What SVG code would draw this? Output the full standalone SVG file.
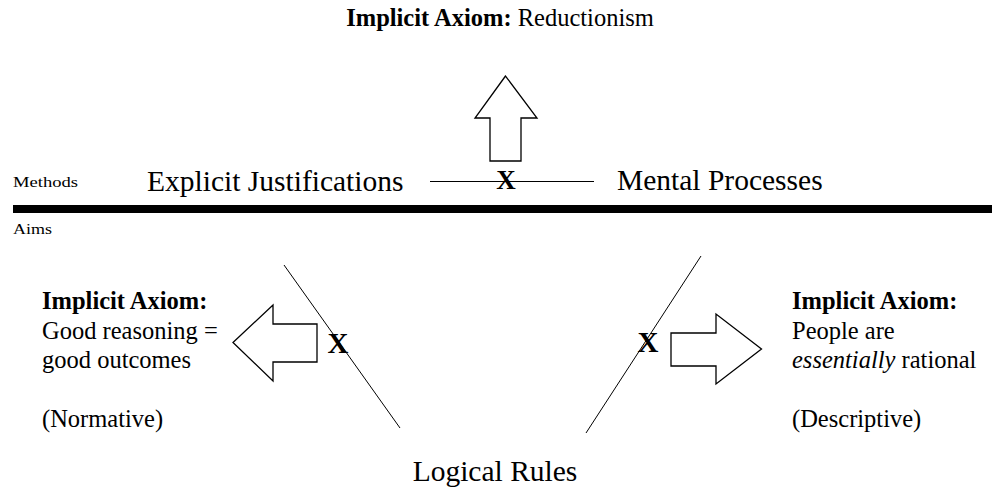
<svg xmlns="http://www.w3.org/2000/svg" width="992" height="489" viewBox="0 0 992 489">
<style>
  text { font-family: "Liberation Serif", "Times New Roman", serif; fill: #000; }
  .b { font-weight: bold; }
  .big { font-size: 29.5px; }
  .mid { font-size: 24.5px; }
  .small { font-size: 15px; }
  .x { font-weight: bold; text-anchor: middle; }
  .thin { stroke: #000; stroke-width: 1; fill: none; }
  .blk { fill: #fff; stroke: #000; stroke-width: 1.3; stroke-linejoin: miter; }
</style>
<rect width="992" height="489" fill="#fff"/>

<g id="connectors">
  <line class="thin" x1="430" y1="181.5" x2="594" y2="181.5"/>
  <line class="thin" x1="284" y1="265" x2="400" y2="428"/>
  <line class="thin" x1="701" y1="256" x2="586" y2="433"/>
  <polygon class="blk" points="505.5,76 475,118 490,118 490,161 521,161 521,118 537,118"/>
  <polygon class="blk" points="233,342.5 273,305 273,324 317,324 317,362 273,362 273,381"/>
  <polygon class="blk" points="761.5,349 716,314 716,333 671,333 671,366 716,366 716,384"/>
  <text class="x" x="506" y="189" font-size="27">X</text>
  <text class="x" x="338" y="352.5" font-size="29">X</text>
  <text class="x" x="648" y="352" font-size="29">X</text>
</g>

<g id="title">
  <text class="mid" x="500" y="26" text-anchor="middle"><tspan class="b">Implicit Axiom:</tspan> Reductionism</text>
</g>

<g id="divider">
  <rect x="13" y="205" width="979" height="8" fill="#000"/>
  <text class="small" x="13" y="187" textLength="65" lengthAdjust="spacingAndGlyphs">Methods</text>
  <text class="small" x="13" y="234" textLength="39" lengthAdjust="spacingAndGlyphs">Aims</text>
</g>

<g id="explicit-justifications">
  <text class="big" x="147" y="191">Explicit Justifications</text>
</g>

<g id="mental-processes">
  <text class="big" x="617" y="190">Mental Processes</text>
</g>

<g id="normative">
  <text class="mid" x="42" y="309"><tspan class="b">Implicit Axiom:</tspan></text>
  <text class="mid" x="42" y="338.5">Good reasoning =</text>
  <text class="mid" x="42" y="368">good outcomes</text>
  <text class="mid" x="42" y="427">(Normative)</text>
</g>

<g id="descriptive">
  <text class="mid" x="792" y="309"><tspan class="b">Implicit Axiom:</tspan></text>
  <text class="mid" x="792" y="338.5">People are</text>
  <text class="mid" x="792" y="368"><tspan font-style="italic">essentially</tspan> rational</text>
  <text class="mid" x="792" y="427">(Descriptive)</text>
</g>

<g id="logical-rules">
  <text class="big" x="495" y="481" text-anchor="middle">Logical Rules</text>
</g>
</svg>
